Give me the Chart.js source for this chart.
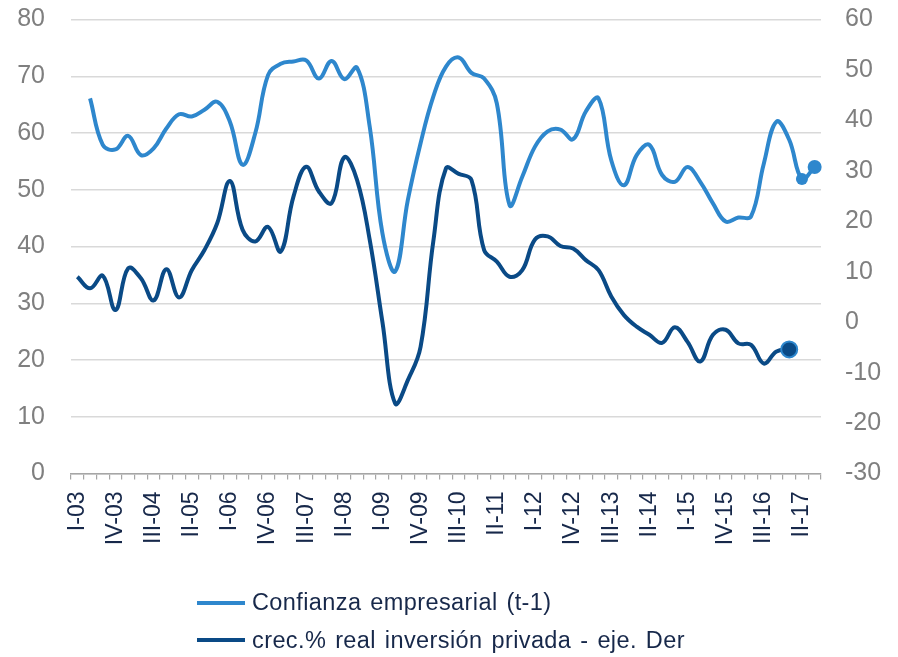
<!DOCTYPE html>
<html><head><meta charset="utf-8">
<script src="https://cdn.jsdelivr.net/npm/chart.js@4.4.1/dist/chart.umd.min.js"></script>
<style>
html,body{margin:0;padding:0;background:#fff;}
#wrap{position:relative;width:898px;height:657px;}
#legend{position:absolute;left:197px;top:584px;font-family:"Liberation Sans",Arial,sans-serif;font-size:23.5px;word-spacing:2px;letter-spacing:0.4px;color:#17284a;}
.item{display:flex;align-items:center;height:37.5px;white-space:nowrap;}
.sw{width:48px;height:4px;margin-right:7px;}
</style></head>
<body><div id="wrap"><canvas id="c" width="898" height="657"></canvas><div id="legend"></div></div>
<script>
const categories = [
 'I-03','II-03','III-03','IV-03','I-04','II-04','III-04','IV-04',
 'I-05','II-05','III-05','IV-05','I-06','II-06','III-06','IV-06',
 'I-07','II-07','III-07','IV-07','I-08','II-08','III-08','IV-08',
 'I-09','II-09','III-09','IV-09','I-10','II-10','III-10','IV-10',
 'I-11','II-11','III-11','IV-11','I-12','II-12','III-12','IV-12',
 'I-13','II-13','III-13','IV-13','I-14','II-14','III-14','IV-14',
 'I-15','II-15','III-15','IV-15','I-16','II-16','III-16','IV-16',
 'I-17','II-17','III-17'
];
const confianza = [
 null,66.1,57.9,57.1,59.5,56.1,57.3,60.8,63.3,62.9,
 64.1,65.5,62.0,54.4,60.0,70.2,72.2,72.6,72.8,69.6,
 72.7,69.5,71.5,61.1,42.3,35.6,48.2,58.2,66.4,71.7,
 73.3,70.6,69.6,65.2,47.3,52.3,57.6,60.3,60.6,58.9,
 63.8,66.1,55.2,50.8,56.1,57.9,52.6,51.4,54.0,51.4,
 47.6,44.4,45.1,45.3,54.6,62.0,58.8,51.9,54.0
];
const inversion = [
 9.0,6.7,9.2,2.4,10.7,8.7,4.3,10.5,4.9,10.3,
 14.3,19.6,28.0,18.3,16.0,18.9,14.0,24.9,30.8,25.9,
 23.6,32.7,28.2,16.3,0.0,-16.1,-11.5,-4.9,16.0,30.5,
 29.4,28.2,14.3,12.0,9.0,10.3,16.4,17.0,15.1,14.6,
 12.3,10.3,5.1,1.4,-0.9,-2.5,-4.1,-1.0,-3.9,-7.8,
 -2.5,-1.5,-4.2,-4.5,-8.2,-5.8,-5.4,null,null
];
const seriesNames = ['Confianza empresarial (t-1)', 'crec.% real inversión privada - eje. Der'];
const leftRange = [0, 80];
const rightRange = [-30, 60];

const C_LIGHT = '#2e87cd';
const C_DARK = '#0a4a86';
const FONT = '"Liberation Sans", Arial, sans-serif';

function lastIndex(arr){ for(let i=arr.length-1;i>=0;i--) if(arr[i]!==null) return i; return -1; }
const lastConf = lastIndex(confianza);
const lastInv = lastIndex(inversion);

function noPadV(s){ s.paddingTop = 0; s.paddingBottom = 0; }

new Chart(document.getElementById('c'), {
  type: 'line',
  data: {
    labels: categories,
    datasets: [
      {
        label: seriesNames[0], data: confianza, yAxisID: 'yL',
        borderColor: C_LIGHT, backgroundColor: C_LIGHT, borderWidth: 4,
        tension: 0.4, order: 2,
        pointRadius: c => c.dataIndex === lastConf ? 7 : (c.dataIndex === lastConf-1 ? 6 : 0),
        pointBorderWidth: 0, pointBackgroundColor: C_LIGHT
      },
      {
        label: seriesNames[1], data: inversion, yAxisID: 'yR',
        borderColor: C_DARK, backgroundColor: C_DARK, borderWidth: 4,
        tension: 0.4, order: 1,
        pointRadius: c => c.dataIndex === lastInv ? 8 : 0,
        pointBorderWidth: 2, pointBorderColor: C_LIGHT, pointBackgroundColor: C_DARK
      }
    ]
  },
  options: {
    responsive: false, animation: false, devicePixelRatio: 1,
    layout: { padding: { top: 19.5, left: 0, right: 0, bottom: 0 } },
    plugins: { legend: { display: false }, tooltip: { enabled: false } },
    scales: {
      x: {
        type: 'category', offset: true,
        grid: { offset: true, drawOnChartArea: false, drawTicks: true, tickLength: 6, color: '#a6a6a6', lineWidth: 1.2 },
        border: { display: true, color: '#a6a6a6', width: 1.5 },
        ticks: {
          autoSkip: false, maxRotation: 90, minRotation: 90, padding: 12,
          color: '#17284a', font: { family: FONT, size: 23 },
          callback: function(v, i){ return i % 3 === 0 ? categories[i] : ''; }
        },
        afterFit: s => { s.height = 657 - 473.5; s.paddingLeft = 0; s.paddingRight = 0; }
      },
      yL: {
        position: 'left', min: leftRange[0], max: leftRange[1],
        grid: { color: '#d9d9d9', lineWidth: 1.5, drawTicks: false },
        border: { display: false },
        ticks: { stepSize: 10, padding: 26, color: '#7f7f7f', font: { family: FONT, size: 25 } },
        afterFit: s => { s.width = 71; noPadV(s); }
      },
      yR: {
        position: 'right', min: rightRange[0], max: rightRange[1],
        grid: { drawOnChartArea: false, drawTicks: false },
        border: { display: false },
        ticks: { stepSize: 10, padding: 24, color: '#7f7f7f', font: { family: FONT, size: 25 } },
        afterFit: s => { s.width = 77; noPadV(s); }
      }
    }
  }
});

const lg = document.getElementById('legend');
[[seriesNames[0], C_LIGHT], [seriesNames[1], C_DARK]].forEach(([t, col]) => {
  const d = document.createElement('div'); d.className = 'item';
  const sw = document.createElement('span'); sw.className = 'sw'; sw.style.background = col;
  const tx = document.createElement('span'); tx.textContent = t;
  d.appendChild(sw); d.appendChild(tx); lg.appendChild(d);
});
</script>
</body></html>
